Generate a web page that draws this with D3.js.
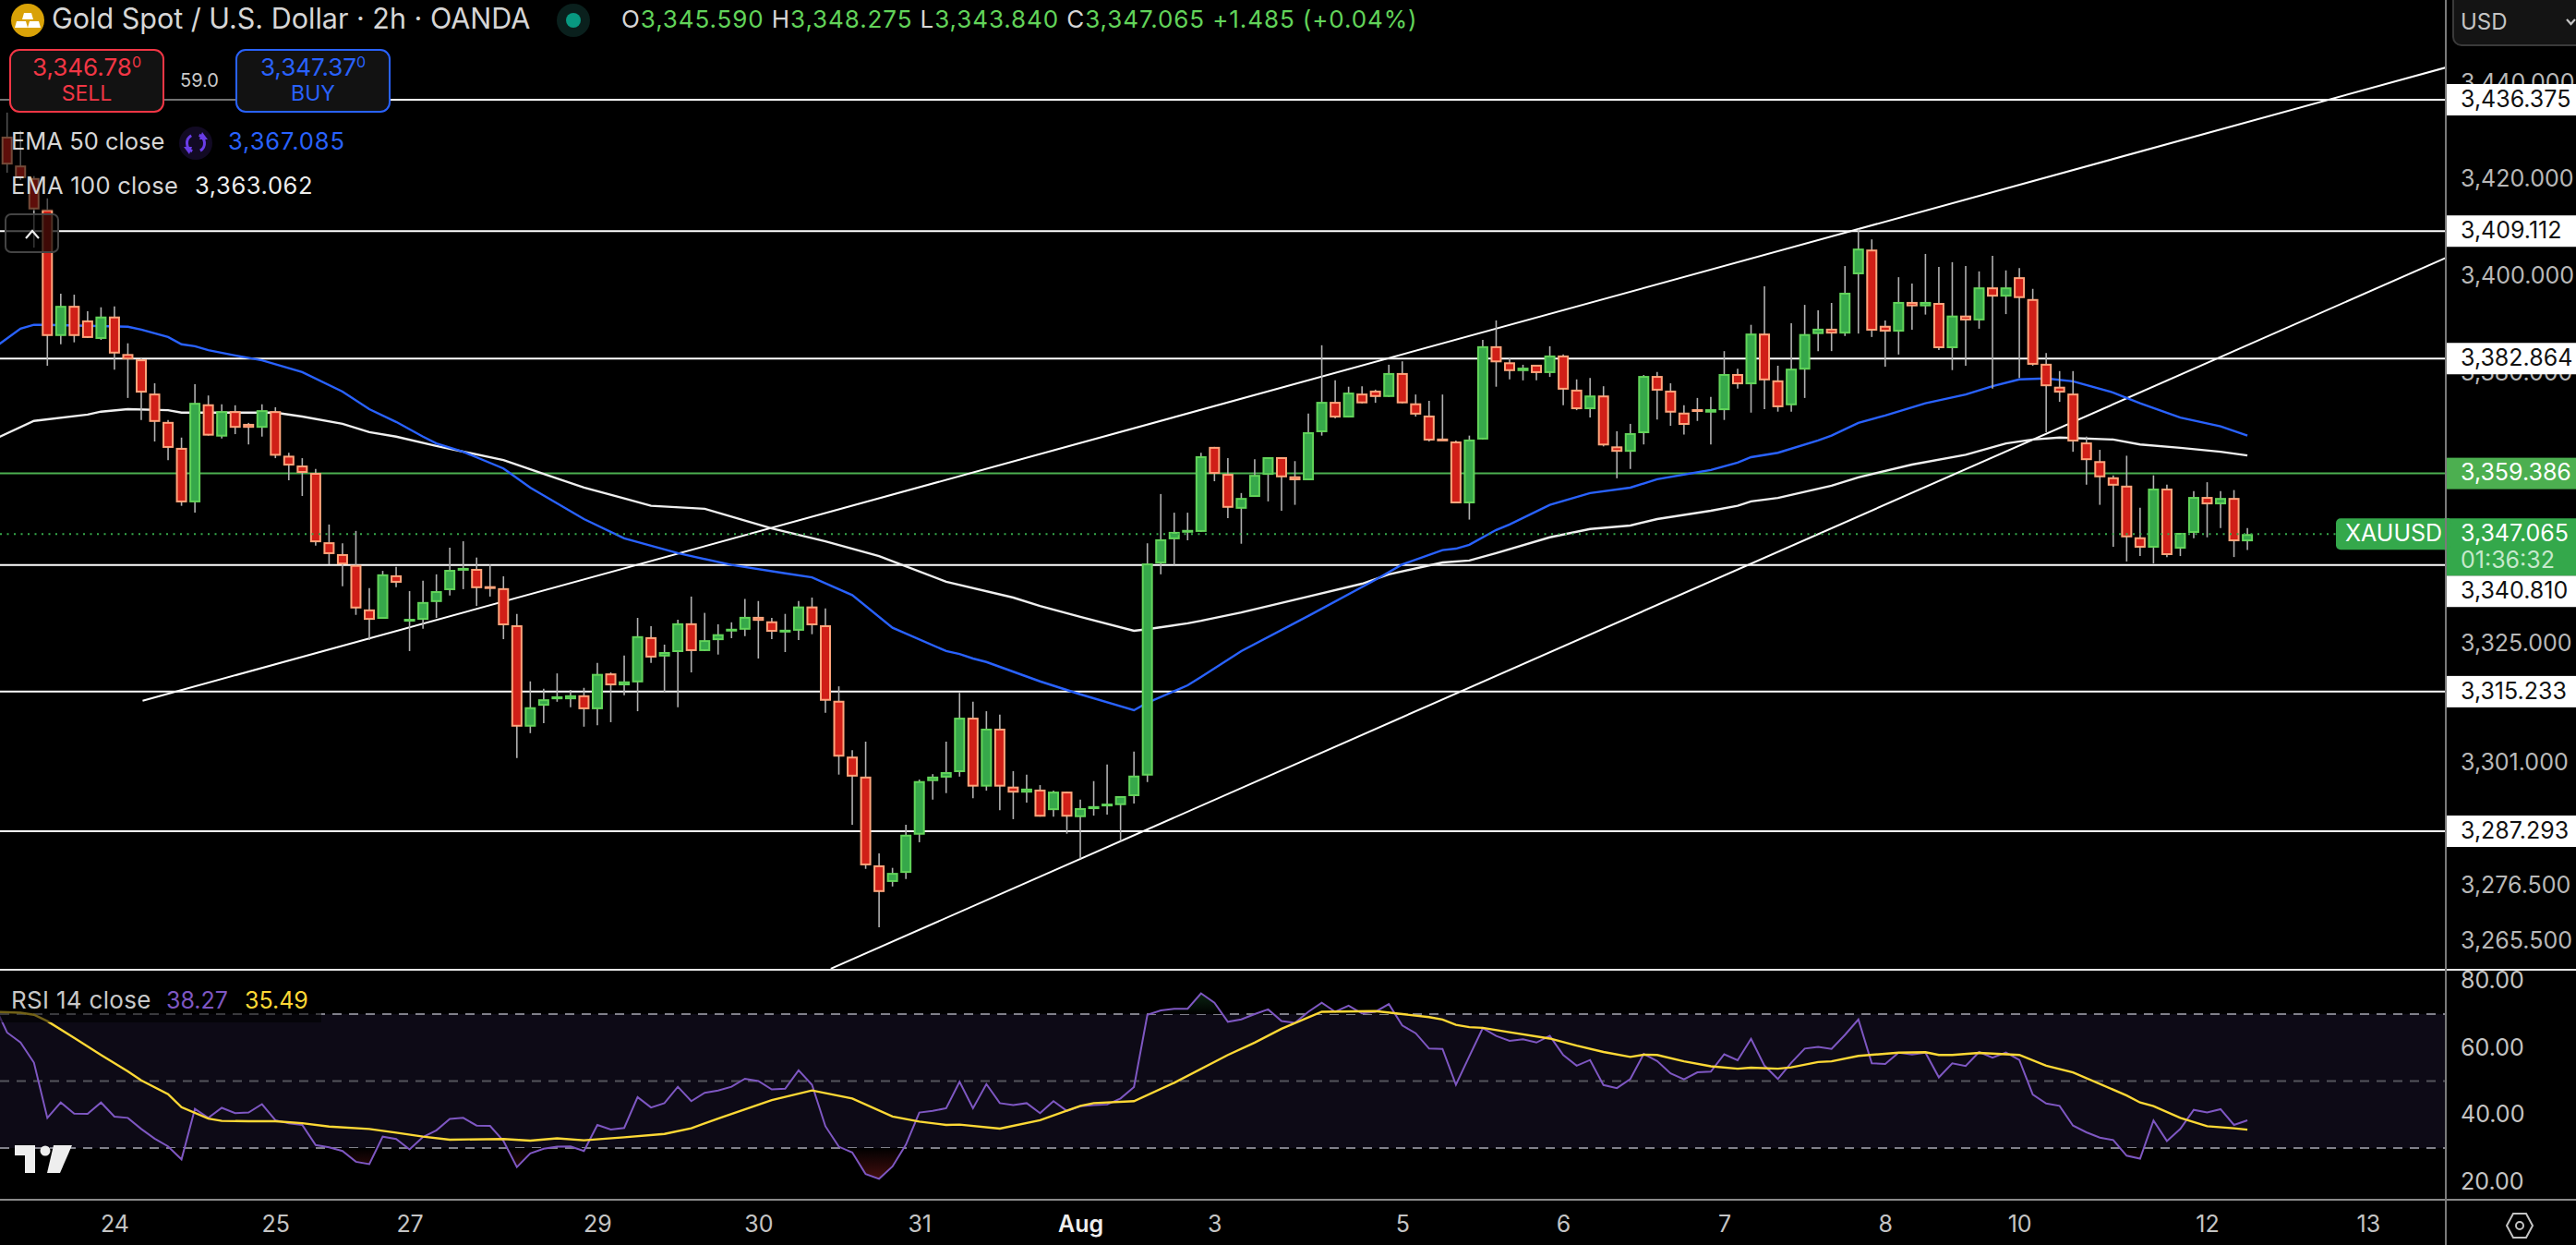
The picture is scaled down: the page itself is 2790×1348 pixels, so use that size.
<!DOCTYPE html>
<html>
<head>
<meta charset="utf-8">
<script src="https://cdn.jsdelivr.net/npm/d3@7"></script>
<style>
  html, body { margin: 0; background: #000; }
  svg { display: block; }
  text { font-family: Inter, "Noto Sans", sans-serif; }
</style>
</head>
<body>
<svg id="chart" width="2790" height="1348"></svg>
<script>
// candles, first bar = 0, one bar = 2h
const opens = [
  3428.7,3422.7,3420.1,3413.6,3387.5,3393.7,3390.7,3386.9,3391.5,3383.8,
  3382.7,3375.7,3369.9,3364.6,3353.5,3373.5,3366.9,3372.1,3369.5,3368.7,
  3372.1,3363.0,3361.0,3359.5,3345.4,3343.0,3340.8,3331.8,3329.9,3338.7,
  3329.7,3329.7,3333.3,3335.7,3339.8,3340.0,3336.5,3336.1,3328.6,3308.2,
  3312.4,3313.7,3313.7,3314.5,3311.7,3318.9,3316.5,3317.1,3326.2,3322.3,
  3323.2,3329.0,3323.4,3325.6,3327.7,3327.7,3330.3,3329.4,3327.5,3327.5,
  3332.4,3328.6,3313.4,3302.2,3298.2,3280.5,3277.2,3279.0,3286.6,3297.3,
  3298.0,3299.1,3310.0,3296.2,3307.8,3296.2,3295.0,3295.6,3291.5,3295.2,
  3290.1,3291.7,3292.5,3292.5,3294.3,3298.4,3341.1,3346.0,3347.5,3347.5,
  3364.8,3359.3,3352.2,3354.6,3359.1,3362.7,3358.8,3358.0,3367.8,3374.0,
  3370.8,3375.7,3376.3,3375.0,3379.9,3373.7,3371.2,3366.5,3365.9,3353.3,
  3366.3,3385.4,3382.1,3380.3,3381.6,3379.9,3383.5,3376.5,3372.5,3375.3,
  3364.9,3363.8,3367.6,3379.3,3376.3,3371.8,3372.5,3371.8,3372.3,3379.7,
  3377.6,3388.0,3378.4,3373.3,3380.6,3387.9,3389.0,3388.0,3400.2,3405.3,
  3389.6,3388.4,3394.5,3393.6,3394.3,3385.0,3391.7,3390.7,3397.5,3395.6,
  3399.6,3395.1,3381.8,3377.1,3375.7,3365.7,3361.9,3358.6,3356.9,3346.4,
  3344.3,3356.3,3344.1,3347.3,3354.6,3353.1,3354.4,3345.59
];
const highs = [
  3433.7,3429.9,3420.5,3415.9,3396.2,3396.0,3392.6,3393.4,3393.6,3386.0,
  3382.9,3377.8,3370.3,3366.7,3377.6,3375.3,3373.5,3373.3,3369.7,3373.5,
  3372.9,3363.6,3362.5,3360.3,3349.0,3345.2,3347.7,3336.1,3339.6,3340.4,
  3335.5,3337.6,3338.9,3344.3,3345.6,3342.3,3340.9,3338.5,3330.9,3317.3,
  3315.8,3318.9,3315.6,3316.0,3321.0,3319.1,3322.5,3330.1,3328.4,3324.7,
  3329.7,3334.4,3331.1,3328.8,3329.2,3333.9,3333.5,3330.1,3330.9,3333.5,
  3334.2,3332.0,3316.3,3303.5,3305.2,3282.9,3280.0,3288.6,3297.6,3298.7,
  3305.2,3315.0,3313.2,3311.3,3310.6,3299.3,3298.6,3296.5,3295.4,3295.2,
  3293.6,3297.3,3300.6,3294.3,3303.2,3345.2,3355.2,3351.4,3351.4,3363.6,
  3364.8,3362.5,3355.4,3362.3,3362.7,3362.7,3361.9,3371.6,3385.6,3378.4,
  3377.1,3377.2,3376.5,3381.6,3382.3,3375.5,3374.2,3375.5,3366.1,3367.1,
  3386.7,3390.7,3382.9,3381.6,3381.6,3385.4,3383.7,3378.6,3378.9,3377.2,
  3368.0,3369.5,3379.5,3380.1,3377.8,3373.3,3374.8,3375.0,3384.4,3380.8,
  3389.8,3397.7,3381.4,3390.1,3393.9,3392.8,3394.3,3401.9,3409.5,3407.4,
  3390.7,3399.6,3398.3,3404.4,3401.7,3402.7,3401.9,3400.8,3404.0,3401.0,
  3401.5,3397.2,3384.0,3380.3,3380.3,3366.9,3364.2,3359.0,3363.0,3352.4,
  3359.0,3357.1,3347.3,3355.8,3357.6,3355.8,3356.0,3348.275
];
const lows = [
  3421.2,3419.7,3405.7,3381.4,3385.8,3386.2,3387.1,3386.7,3380.6,3374.8,
  3370.3,3365.9,3362.1,3352.8,3351.4,3367.1,3366.5,3367.4,3365.3,3366.9,
  3362.5,3358.0,3354.8,3344.7,3340.9,3336.5,3330.7,3325.6,3329.9,3336.3,
  3323.4,3327.9,3330.1,3334.6,3335.9,3332.5,3334.4,3325.8,3301.9,3306.9,
  3308.9,3313.2,3312.1,3308.2,3308.5,3309.1,3314.5,3311.3,3321.0,3315.0,
  3312.1,3319.1,3323.4,3322.7,3326.0,3326.4,3321.9,3325.8,3323.2,3325.6,
  3326.8,3311.0,3298.6,3288.6,3279.8,3268.2,3276.3,3277.8,3285.1,3293.6,
  3294.9,3298.2,3293.9,3295.4,3291.5,3289.7,3293.0,3290.2,3290.2,3286.8,
  3281.8,3290.4,3290.6,3285.3,3292.8,3297.1,3338.9,3340.8,3345.8,3347.5,
  3357.8,3350.3,3345.1,3354.6,3353.7,3351.8,3353.0,3358.0,3367.1,3370.6,
  3370.8,3373.7,3373.8,3375.0,3373.7,3371.0,3365.9,3366.1,3353.3,3350.0,
  3366.3,3377.1,3378.6,3378.4,3378.4,3379.1,3373.3,3372.3,3370.8,3364.9,
  3358.4,3360.3,3365.3,3370.4,3369.1,3367.3,3370.1,3365.3,3370.3,3376.7,
  3371.8,3372.5,3372.0,3372.0,3374.8,3384.4,3384.4,3387.5,3388.0,3387.3,
  3381.2,3383.7,3388.8,3391.9,3384.6,3380.5,3381.4,3389.0,3376.7,3392.0,
  3378.9,3381.4,3367.8,3374.0,3363.8,3357.1,3353.0,3344.5,3341.5,3342.6,
  3341.1,3342.4,3342.6,3346.2,3346.4,3348.3,3342.4,3343.84
];
const closes = [
  3422.9,3420.1,3413.6,3387.5,3393.7,3387.5,3387.1,3391.5,3383.9,3382.7,
  3375.9,3369.9,3364.6,3353.5,3373.8,3367.1,3372.1,3368.7,3368.7,3372.3,
  3363.0,3361.0,3359.5,3345.4,3343.0,3340.9,3332.0,3329.7,3338.9,3337.2,
  3329.9,3333.3,3335.5,3339.8,3340.2,3336.1,3336.1,3328.6,3308.2,3312.1,
  3313.7,3314.3,3314.5,3311.7,3318.8,3316.5,3317.3,3326.4,3322.1,3323.2,
  3329.0,3323.4,3325.6,3326.8,3327.9,3330.3,3329.5,3327.3,3327.7,3332.4,
  3328.6,3313.4,3302.2,3298.2,3280.5,3275.2,3279.0,3286.6,3297.3,3298.2,
  3299.1,3310.0,3296.2,3307.8,3296.2,3295.0,3295.8,3290.2,3295.2,3290.2,
  3291.9,3292.3,3292.8,3294.3,3298.4,3341.1,3346.0,3347.5,3347.9,3362.9,
  3359.3,3352.4,3354.4,3359.1,3362.7,3358.6,3358.0,3367.8,3374.0,3370.8,
  3375.9,3373.7,3375.0,3379.9,3373.7,3371.4,3366.1,3366.1,3353.3,3366.3,
  3385.4,3382.1,3380.3,3381.0,3379.9,3383.5,3376.5,3372.5,3375.3,3365.1,
  3363.8,3367.6,3379.3,3376.3,3371.8,3369.3,3372.1,3372.5,3379.7,3377.6,
  3388.0,3378.4,3372.9,3380.8,3387.9,3389.0,3388.0,3396.4,3405.5,3388.6,
  3388.4,3394.5,3393.6,3394.5,3385.0,3391.7,3390.7,3397.5,3395.6,3397.5,
  3395.3,3381.6,3377.2,3375.9,3365.9,3362.1,3358.6,3356.9,3346.4,3344.3,
  3356.3,3342.8,3347.3,3354.6,3353.1,3354.4,3345.6,3347.065
];

// EMA lines, read at these bars
const ema50Bars = [-1,1,2,3,9,10,12,13,14,15,17,19,22,25,27,29,31,32,34,37,39,41,43,46,48,50,54,58,60,63,66,70,71,72,73,77,80,84,85,88,89,92,97,102,104,107,108,109,111,112,115,118,121,123,127,129,130,132,135,136,138,140,143,146,148,150,152,154,157,159,162,165,167];
const ema50Vals = [3385.0,3389.0,3389.8,3389.8,3389.4,3388.8,3387.3,3385.8,3385.4,3384.6,3383.5,3382.5,3380.1,3376.1,3372.5,3369.9,3366.9,3365.5,3363.8,3360.4,3356.5,3353.3,3350.1,3346.2,3344.7,3343.2,3340.8,3339.1,3338.3,3334.7,3328.1,3323.4,3322.8,3321.9,3321.2,3317.3,3314.7,3311.5,3313.0,3316.5,3318.2,3323.4,3330.5,3337.8,3340.9,3343.8,3344.1,3344.9,3347.9,3349.0,3353.0,3355.4,3356.5,3358.2,3360.1,3361.6,3362.7,3363.6,3366.1,3367.1,3369.7,3371.2,3373.7,3375.5,3377.2,3378.6,3378.8,3378.2,3375.9,3373.7,3370.8,3369.0,3367.085];
const ema100Bars = [-1,2,6,7,9,12,13,20,22,25,27,29,32,37,40,43,46,48,52,57,61,65,70,75,77,80,84,85,88,89,92,97,101,103,107,109,111,115,118,121,123,127,129,130,132,136,138,142,146,149,151,153,157,159,162,165,167];
const ema100Vals = [3366.3,3370.1,3371.4,3372.0,3372.5,3372.3,3371.8,3371.8,3371.0,3369.5,3367.8,3366.9,3365.0,3362.1,3359.3,3356.5,3354.3,3352.8,3352.2,3348.2,3345.6,3342.6,3337.4,3334.2,3332.5,3330.3,3327.5,3327.8,3329.0,3329.5,3331.2,3334.4,3337.0,3338.9,3341.3,3341.7,3343.2,3346.4,3348.1,3348.8,3350.1,3351.8,3352.8,3353.7,3354.4,3356.9,3358.6,3361.2,3363.2,3365.5,3366.3,3366.7,3366.3,3365.3,3364.6,3363.8,3363.062];

// RSI 14 per bar, first value is bar -1
const rsiVals = [
  73.0,64.5,61.5,55.5,39.0,43.6,40.3,40.2,43.6,39.4,39.0,
  35.7,32.8,30.5,26.6,41.7,39.0,42.0,40.4,40.6,43.1,
  38.3,37.4,36.9,30.9,30.2,29.1,25.9,25.2,33.4,32.7,
  29.6,33.3,35.3,38.7,39.0,36.7,36.6,32.1,24.3,28.4,
  29.8,30.4,30.5,29.1,36.9,35.5,36.0,45.2,42.1,43.4,
  48.3,44.0,46.5,47.2,48.3,50.7,50.0,47.5,47.7,53.2,
  48.9,36.5,30.4,28.7,22.2,20.8,24.5,31.0,40.6,41.1,
  41.9,49.8,41.9,49.1,43.4,42.8,43.4,40.4,44.0,41.1,
  42.5,42.8,43.0,44.8,48.2,69.8,71.1,71.6,71.6,76.2,
  73.4,67.7,68.4,70.0,71.4,67.9,67.4,70.7,73.4,70.7,
  72.5,70.2,70.7,73.0,66.6,64.3,59.7,59.6,48.9,57.4,
  65.8,63.5,62.0,62.5,61.5,63.5,57.8,54.6,56.3,48.8,
  47.9,50.6,58.1,56.0,52.3,50.5,52.6,52.8,58.0,56.2,
  62.6,54.6,50.6,55.5,59.7,60.2,59.6,63.8,68.4,55.3,
  55.1,58.5,57.9,58.5,51.1,55.3,54.5,58.7,57.0,58.5,
  56.3,46.0,43.3,42.6,36.7,34.7,33.1,32.4,27.7,26.8,
  38.2,32.1,35.7,41.4,40.6,41.6,36.9,38.27
];
const rsiMaBars = [-1,1,2,3,5,7,9,10,12,13,15,16,18,20,22,24,27,29,31,33,37,39,41,43,46,49,51,53,57,60,63,66,68,70,71,74,77,80,81,84,87,91,93,95,98,102,106,107,108,109,110,112,115,117,119,121,122,123,125,127,129,130,132,133,135,136,138,141,143,144,145,147,150,152,154,158,159,160,162,164,166,167];
const rsiMaVals = [70.7,70.4,69.8,67.9,62.9,57.8,52.9,50.2,46.1,42.2,38.8,38.1,38.0,38.0,37.4,36.4,35.7,34.6,33.4,32.5,32.7,32.2,32.9,32.3,33.2,34.2,35.9,38.8,44.3,47.2,44.8,39.4,37.9,36.9,37.0,35.8,38.3,42.6,43.4,44.0,49.5,57.8,61.5,65.6,70.7,70.9,69.1,68.4,66.8,66.1,65.9,64.6,62.7,60.6,58.7,57.2,57.9,57.8,55.9,54.4,53.7,54.0,53.7,54.1,55.7,55.9,57.5,58.5,58.6,57.8,57.8,58.4,57.8,54.6,52.6,45.7,43.6,42.5,39.0,36.5,35.9,35.49];

// drawn levels and trend lines
const whiteLevels = [3436.375, 3409.112, 3382.864, 3340.81, 3315.233, 3287.293];
const greenLevel = 3359.386;
const lastPrice = 3347.065;
const trendBars = [[10.1, 181.8], [61.4, 181.8]];
const trendPrices = [[3313.4, 3443.1], [3260.0, 3403.6]];

// axis labels
const priceTicks = [3440, 3420, 3400, 3380, 3360, 3325, 3301, 3276.5, 3265.5];
const rsiTicks = [80, 60, 40, 20];
const rsiGuides = [70, 50, 30];
const dateBars = [8, 20, 30, 44, 56, 68, 80, 90, 104, 116, 128, 140, 150, 164, 176];
const dateLabels = ['24', '25', '27', '29', '30', '31', 'Aug', '3', '5', '6', '7', '8', '10', '12', '13'];

const W = 2790, H = 1348;
const axisX = 2649, paneBottom = 1050, timeTop = 1299;

const svg = d3.select('#chart');
const bars = d3.range(closes.length);

const x = d3.scaleLinear().domain([0, 167]).range([7.7, 2434.1]);
const y = d3.scaleLog().domain([3436.375, 3287.293]).range([108, 900]);
const yRsi = d3.scaleLinear().domain([70, 30]).range([1098, 1243]);

const defs = svg.append('defs');
defs.append('clipPath').attr('id', 'mainClip').append('rect')
  .attr('width', axisX).attr('height', paneBottom);
defs.append('clipPath').attr('id', 'rsiClip').append('rect')
  .attr('y', paneBottom).attr('width', axisX).attr('height', timeTop - paneBottom);
defs.append('clipPath').attr('id', 'below30').append('rect')
  .attr('y', yRsi(30)).attr('width', axisX).attr('height', 60);
defs.append('clipPath').attr('id', 'above70').append('rect')
  .attr('y', yRsi(70) - 60).attr('width', axisX).attr('height', 60);

const redGrad = defs.append('linearGradient').attr('id', 'redFade')
  .attr('gradientUnits', 'userSpaceOnUse')
  .attr('x1', 0).attr('x2', 0).attr('y1', yRsi(30)).attr('y2', yRsi(20));
redGrad.append('stop').attr('offset', 0).attr('stop-color', '#000');
redGrad.append('stop').attr('offset', 1).attr('stop-color', '#4a1010');
const greenGrad = defs.append('linearGradient').attr('id', 'greenFade')
  .attr('gradientUnits', 'userSpaceOnUse')
  .attr('x1', 0).attr('x2', 0).attr('y1', yRsi(70)).attr('y2', yRsi(78));
greenGrad.append('stop').attr('offset', 0).attr('stop-color', '#000');
greenGrad.append('stop').attr('offset', 1).attr('stop-color', '#0d3018');

svg.append('rect').attr('width', W).attr('height', H).attr('fill', '#000');

// main pane
const main = svg.append('g').attr('clip-path', 'url(#mainClip)');

main.append('g').selectAll('line').data(whiteLevels).join('line')
  .attr('x1', 0).attr('x2', axisX).attr('y1', d => y(d)).attr('y2', d => y(d))
  .attr('stroke', '#fff').attr('stroke-width', 2);
main.append('line')
  .attr('x1', 0).attr('x2', axisX).attr('y1', y(greenLevel)).attr('y2', y(greenLevel))
  .attr('stroke', '#4caf50').attr('stroke-width', 2);

main.append('g').selectAll('line').data(trendBars).join('line')
  .attr('x1', d => x(d[0])).attr('x2', d => x(d[1]))
  .attr('y1', (d, i) => y(trendPrices[i][0])).attr('y2', (d, i) => y(trendPrices[i][1]))
  .attr('stroke', '#fff').attr('stroke-width', 2);

const emaLine = d3.line().x(d => x(d[0])).y(d => y(d[1]));
main.append('path').attr('d', emaLine(d3.zip(ema100Bars, ema100Vals)))
  .attr('fill', 'none').attr('stroke', '#efefef').attr('stroke-width', 2.4);
main.append('path').attr('d', emaLine(d3.zip(ema50Bars, ema50Vals)))
  .attr('fill', 'none').attr('stroke', '#2962ff').attr('stroke-width', 2.4);

const candles = main.append('g').selectAll('g').data(bars).join('g');
candles.append('line')
  .attr('x1', i => x(i)).attr('x2', i => x(i))
  .attr('y1', i => y(highs[i])).attr('y2', i => y(lows[i]))
  .attr('stroke', '#b0b0b0').attr('stroke-width', 1.6);
candles.append('rect')
  .attr('x', i => x(i) - 5)
  .attr('width', 10)
  .attr('y', i => y(Math.max(opens[i], closes[i])) + 1)
  .attr('height', i => Math.max(1, Math.abs(y(opens[i]) - y(closes[i])) - 2))
  .attr('fill', i => closes[i] >= opens[i] ? '#36a84a' : '#d01f17')
  .attr('stroke', i => closes[i] >= opens[i] ? '#62d45a' : '#ffa57c')
  .attr('stroke-width', 2);

main.append('line')
  .attr('x1', 0).attr('x2', axisX).attr('y1', y(lastPrice)).attr('y2', y(lastPrice))
  .attr('stroke', '#36a84a').attr('stroke-width', 2).attr('stroke-dasharray', '2 5.5');

// RSI pane
const rsiPane = svg.append('g').attr('clip-path', 'url(#rsiClip)');
rsiPane.append('rect')
  .attr('x', 0).attr('width', axisX)
  .attr('y', yRsi(70)).attr('height', yRsi(30) - yRsi(70))
  .attr('fill', '#0d0a16');
rsiPane.append('g').selectAll('line').data(rsiGuides).join('line')
  .attr('x1', 0).attr('x2', axisX).attr('y1', d => yRsi(d)).attr('y2', d => yRsi(d))
  .attr('stroke', d => d === 50 ? '#55555c' : '#80808a')
  .attr('stroke-width', 2).attr('stroke-dasharray', '10 8');

const rsiPairs = rsiVals.map((v, i) => [i - 1, v]);
const rsiLine = d3.line().x(d => x(d[0])).y(d => yRsi(d[1]));
rsiPane.append('path')
  .attr('d', d3.area().x(d => x(d[0])).y0(yRsi(30)).y1(d => yRsi(d[1]))(rsiPairs))
  .attr('fill', 'url(#redFade)').attr('clip-path', 'url(#below30)');
rsiPane.append('path')
  .attr('d', d3.area().x(d => x(d[0])).y0(yRsi(70)).y1(d => yRsi(d[1]))(rsiPairs))
  .attr('fill', 'url(#greenFade)').attr('clip-path', 'url(#above70)');
rsiPane.append('path').attr('d', rsiLine(rsiPairs))
  .attr('fill', 'none').attr('stroke', '#7e57c2').attr('stroke-width', 2);
rsiPane.append('path').attr('d', rsiLine(d3.zip(rsiMaBars, rsiMaVals)))
  .attr('fill', 'none').attr('stroke', '#fdd835').attr('stroke-width', 2.4);

// frame lines
svg.append('line').attr('x1', 0).attr('x2', W).attr('y1', paneBottom).attr('y2', paneBottom)
  .attr('stroke', '#e6e6e6').attr('stroke-width', 2);
svg.append('line').attr('x1', 0).attr('x2', W).attr('y1', timeTop).attr('y2', timeTop)
  .attr('stroke', '#8a8a8a').attr('stroke-width', 2);
svg.append('line').attr('x1', axisX).attr('x2', axisX).attr('y1', 0).attr('y2', H)
  .attr('stroke', '#7a7a7a').attr('stroke-width', 2);

// axes
const labelSize = 25;
function styleAxis(g, color) {
  g.select('.domain').remove();
  g.selectAll('.tick line').remove();
  g.selectAll('text').attr('fill', color).attr('font-size', labelSize)
    .attr('font-family', 'Inter, "Noto Sans", sans-serif');
}
svg.append('g').attr('transform', `translate(${axisX + 6},0)`)
  .call(d3.axisRight(y).tickValues(priceTicks).tickFormat(d3.format(',.3f')).tickSize(0).tickPadding(10))
  .call(styleAxis, '#b8b8b8');
svg.append('g').attr('transform', `translate(${axisX + 6},0)`)
  .call(d3.axisRight(yRsi).tickValues(rsiTicks).tickFormat(d3.format('.2f')).tickSize(0).tickPadding(10))
  .call(styleAxis, '#c4c4c4');
svg.append('g').attr('transform', `translate(0,1316)`)
  .call(d3.axisBottom(x).tickValues(dateBars).tickFormat((d, i) => dateLabels[i]).tickSize(0).tickPadding(0))
  .call(styleAxis, '#c4c4c4')
  .call(g => g.selectAll('text').filter(d => d === 80).attr('fill', '#eee').attr('font-weight', 600));

// price tags on the axis
const tagX = axisX + 1, tagW = W - tagX, tagH = 34;
function priceTag(v, cy, bg, fg) {
  svg.append('rect').attr('x', tagX).attr('y', cy - tagH / 2).attr('width', tagW).attr('height', tagH).attr('fill', bg);
  svg.append('text').attr('x', axisX + 16).attr('y', cy + 1).attr('dominant-baseline', 'middle')
    .attr('font-size', labelSize).attr('fill', fg).text(d3.format(',.3f')(v));
}
const lastY = y(lastPrice);
whiteLevels.forEach(v => {
  const cy = v === 3340.81 ? lastY + 45 + tagH / 2 : y(v);
  priceTag(v, cy, '#fff', '#111');
});
priceTag(greenLevel, y(greenLevel), '#4caf50', '#fff');

svg.append('rect').attr('x', tagX).attr('y', lastY - 17).attr('width', tagW).attr('height', 62).attr('fill', '#34a84b');
svg.append('text').attr('x', axisX + 16).attr('y', lastY + 1).attr('dominant-baseline', 'middle')
  .attr('font-size', labelSize).attr('fill', '#fff').text(d3.format(',.3f')(lastPrice));
svg.append('text').attr('x', axisX + 16).attr('y', lastY + 30).attr('dominant-baseline', 'middle')
  .attr('font-size', labelSize).attr('fill', '#c6e8cc').text('01:36:32');
svg.append('rect').attr('x', 2530).attr('y', lastY - 17).attr('width', 125).attr('height', 34).attr('rx', 5).attr('fill', '#34a84b');
svg.append('rect').attr('x', axisX - 2).attr('y', lastY - 17).attr('width', 6).attr('height', 34).attr('fill', '#34a84b');
svg.append('text').attr('x', 2540).attr('y', lastY + 1).attr('dominant-baseline', 'middle')
  .attr('font-size', labelSize).attr('fill', '#fff').text('XAUUSD');
svg.append('line').attr('x1', axisX).attr('x2', axisX).attr('y1', lastY - 17).attr('y2', lastY + 17)
  .attr('stroke', '#7a7a7a').attr('stroke-width', 2);

// currency selector and settings icon
svg.append('rect').attr('x', 2657).attr('y', -12).attr('width', 150).attr('height', 61).attr('rx', 9)
  .attr('fill', '#141414').attr('stroke', '#3a3a3a').attr('stroke-width', 2);
svg.append('text').attr('x', 2665).attr('y', 25).attr('dominant-baseline', 'middle')
  .attr('font-size', 24).attr('fill', '#c4c4c4').text('USD');
svg.append('path').attr('d', 'M2780 21 l4.5 5 l4.5 -5').attr('fill', 'none').attr('stroke', '#c4c4c4').attr('stroke-width', 2.2);
svg.append('path').attr('d', 'M2722 1314 h14 l7 13 l-7 13 h-14 l-7 -13z').attr('fill', 'none')
  .attr('stroke', '#c4c4c4').attr('stroke-width', 2);
svg.append('circle').attr('cx', 2729).attr('cy', 1327).attr('r', 4).attr('fill', 'none')
  .attr('stroke', '#c4c4c4').attr('stroke-width', 2);

// legend veils over the marks
svg.append('rect').attr('x', 0).attr('y', 50).attr('width', 256).attr('height', 178).attr('fill', '#000').attr('opacity', 0.55);
svg.append('rect').attr('x', 0).attr('y', 1062).attr('width', 348).attr('height', 45).attr('fill', '#000').attr('opacity', 0.55);

// header
svg.append('circle').attr('cx', 30).attr('cy', 22).attr('r', 18).attr('fill', '#d9a207');
svg.append('path').attr('d', 'M26 14 h8 l2 7 h-12z M18 23 h10 l2 7 h-14z M32 23 h10 l2 7 h-14z').attr('fill', '#fff');
svg.append('text').attr('x', 56).attr('y', 23).attr('dominant-baseline', 'middle')
  .attr('font-size', 30.5).attr('fill', '#d6d6d6').text('Gold Spot / U.S. Dollar · 2h · OANDA');
svg.append('circle').attr('cx', 621).attr('cy', 22).attr('r', 18).attr('fill', '#0a201d');
svg.append('circle').attr('cx', 621).attr('cy', 22).attr('r', 8).attr('fill', '#089981');

const ohlcText = svg.append('text').attr('x', 673).attr('y', 23).attr('dominant-baseline', 'middle')
  .attr('font-size', 26).attr('letter-spacing', 0.9).attr('xml:space', 'preserve').style('white-space', 'pre');
const ohlcParts = [['O', '3,345.590'], ['H', '3,348.275'], ['L', '3,343.840'], ['C', '3,347.065']];
ohlcParts.forEach(p => {
  ohlcText.append('tspan').attr('fill', '#d6d6d6').text(p[0]);
  ohlcText.append('tspan').attr('fill', '#62d45a').text(p[1] + ' ');
});
ohlcText.append('tspan').attr('fill', '#62d45a').text('+1.485 (+0.04%)');

// sell and buy boxes
function tradeBox(bx, color, big, sup, word) {
  svg.append('rect').attr('x', bx).attr('y', 54).attr('width', 166).attr('height', 67).attr('rx', 10)
    .attr('fill', '#121212').attr('stroke', color).attr('stroke-width', 2);
  const t = svg.append('text').attr('x', bx + 83).attr('y', 75).attr('text-anchor', 'middle')
    .attr('dominant-baseline', 'middle').attr('font-size', 26).attr('fill', color);
  t.append('tspan').text(big);
  t.append('tspan').attr('font-size', 16).attr('dy', -6).text(sup);
  svg.append('text').attr('x', bx + 83).attr('y', 103).attr('text-anchor', 'middle')
    .attr('dominant-baseline', 'middle').attr('font-size', 23).attr('fill', color).text(word);
}
tradeBox(11, '#f23645', '3,346.78', '0', 'SELL');
tradeBox(256, '#2962ff', '3,347.37', '0', 'BUY');
svg.append('text').attr('x', 216).attr('y', 89).attr('text-anchor', 'middle').attr('dominant-baseline', 'middle')
  .attr('font-size', 20).attr('fill', '#c8c8c8').text('59.0');

// indicator legends
function legend(lx, ly, txt, color, size, spacing) {
  svg.append('text').attr('x', lx).attr('y', ly).attr('dominant-baseline', 'middle')
    .attr('font-size', size).attr('letter-spacing', spacing || 0).attr('fill', color).text(txt);
}
legend(12, 155, 'EMA 50 close', '#d6d6d6', 25.5);
legend(247, 155, '3,367.085', '#2962ff', 25.5, 0.9);
legend(12, 203, 'EMA 100 close', '#d6d6d6', 25.5, 0.3);
legend(211, 203, '3,363.062', '#eee', 25.5, 0.6);
legend(12, 1085, 'RSI 14 close', '#c8c8c8', 26, 0.3);
legend(180, 1085, '38.27', '#7e57c2', 25);
legend(265, 1085, '35.49', '#fdd835', 25);

svg.append('circle').attr('cx', 212).attr('cy', 155).attr('r', 18).attr('fill', '#120a24');
const spinArc = d3.arc().innerRadius(8).outerRadius(11);
svg.append('g').attr('transform', 'translate(212,155)').selectAll('path')
  .data([[0.4, 2.6], [3.55, 5.75]]).join('path')
  .attr('d', d => spinArc({ startAngle: d[0], endAngle: d[1] }))
  .attr('fill', '#6a3de8');
svg.append('path').attr('d', 'M219 143 l6 8 h-9z M205 167 l-6 -8 h9z').attr('fill', '#6a3de8');

// collapse button
svg.append('rect').attr('x', 6).attr('y', 232).attr('width', 57).attr('height', 41).attr('rx', 6)
  .attr('fill', '#000').attr('fill-opacity', 0.7).attr('stroke', '#444').attr('stroke-width', 2);
svg.append('path').attr('d', 'M28 258 l7 -8 l7 8').attr('fill', 'none').attr('stroke', '#eee').attr('stroke-width', 2.2);

// watermark
const logo = svg.append('g').attr('fill', '#eee');
logo.append('path').attr('d', 'M16 1240 h22 v30 h-11 v-19 h-11z');
logo.append('circle').attr('cx', 49).attr('cy', 1246).attr('r', 5.5);
logo.append('path').attr('d', 'M58 1240 h20 l-13 30 h-14z');
</script>
</body>
</html>
